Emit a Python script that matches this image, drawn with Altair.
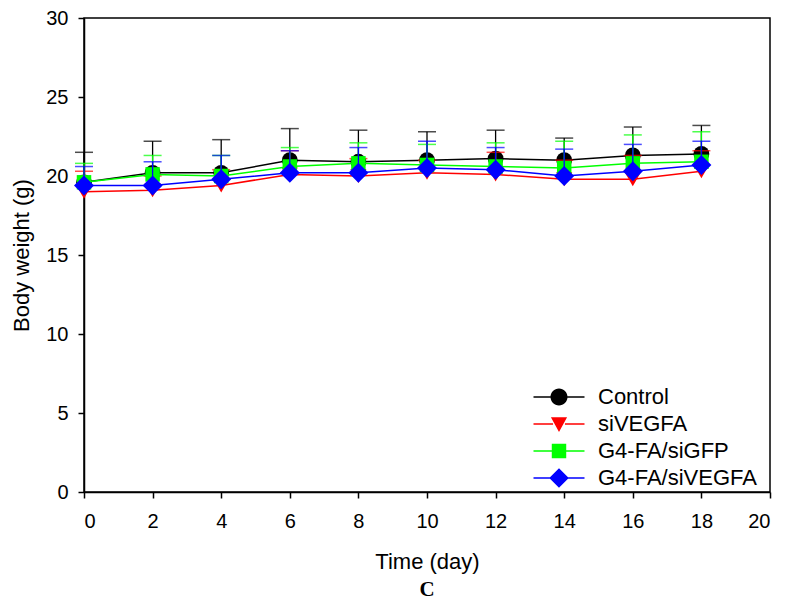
import altair as alt
import pandas as pd

days = [0, 2, 4, 6, 8, 10, 12, 14, 16, 18]
series_names = ["Control", "siVEGFA", "G4-FA/siGFP", "G4-FA/siVEGFA"]
series_colors = ["#000000", "#ff0000", "#00ff00", "#0000ff"]
control = [19.6, 20.2, 20.2, 21.0, 20.9, 21.0, 21.1, 21.0, 21.3, 21.4]
control_up = [21.5, 22.2, 22.3, 23.0, 22.9, 22.8, 22.9, 22.4, 23.1, 23.2]
sivegfa = [19.0, 19.1, 19.4, 20.1, 20.0, 20.2, 20.1, 19.8, 19.8, 20.3]
sivegfa_up = [20.3, 20.0, 20.4, 21.6, 21.1, 21.0, 21.5, 21.0, 21.3, 21.6]
g4_sigfp = [19.6, 20.1, 20.0, 20.6, 20.8, 20.7, 20.6, 20.5, 20.8, 20.9]
g4_sigfp_up = [20.8, 21.3, 21.3, 21.8, 22.1, 22.0, 22.1, 22.2, 22.6, 22.8]
g4_sivegfa = [19.4, 19.4, 19.8, 20.2, 20.2, 20.5, 20.4, 20.0, 20.3, 20.7]
g4_sivegfa_up = [20.6, 20.9, 21.3, 21.6, 21.8, 22.2, 21.8, 21.7, 22.0, 22.2]
x_ticks = [0, 2, 4, 6, 8, 10, 12, 14, 16, 18, 20]
y_ticks = [0, 5, 10, 15, 20, 25, 30]

means = [control, sivegfa, g4_sigfp, g4_sivegfa]
uppers = [control_up, sivegfa_up, g4_sigfp_up, g4_sivegfa_up]
rows = []
for name, m, u in zip(series_names, means, uppers):
    for d, mv, uv in zip(days, m, u):
        rows.append({"day": d, "weight": mv, "upper": uv, "series": name})
df = pd.DataFrame(rows)

FONT = "Liberation Sans"
x_enc = alt.X("day:Q", scale=alt.Scale(domain=[0, 20], nice=False),
              axis=alt.Axis(values=x_ticks, title="Time (day)"))
y_enc = alt.Y("weight:Q", scale=alt.Scale(domain=[0, 30], nice=False),
              axis=alt.Axis(values=y_ticks, title="Body weight (g)"))

marker_shapes = ["circle", "triangle-down", "square", "diamond"]
marker_sizes = [250, 260, 210, 400]

bar = "M-3,-0.08H-0.7V0.08H-3Z M0.7,-0.08H3V0.08H0.7Z "
legend_paths = [
    bar + "M-1,0A1,1,0,1,1,1,0A1,1,0,1,1,-1,0Z",
    bar + "M-0.95,-0.8H0.95L0,0.95Z",
    bar + "M-0.85,-0.85H0.85V0.85H-0.85Z",
    bar + "M0,-1.15L1.15,0L0,1.15L-1.15,0Z",
]

base = alt.Chart(df)
layers = []
for name, col, shp, sz in zip(series_names, series_colors, marker_shapes, marker_sizes):
    sub = base.transform_filter(alt.datum.series == name)
    err = sub.mark_rule(strokeWidth=1.3, color=col).encode(x=x_enc, y=y_enc, y2="upper:Q")
    cap = sub.mark_tick(orient="horizontal", size=18, thickness=1.5, color=col).encode(
        x=x_enc, y=alt.Y("upper:Q"))
    line = sub.mark_line(strokeWidth=1.5, color=col).encode(x=x_enc, y=y_enc)
    pts = sub.mark_point(shape=shp, filled=True, size=sz, opacity=1, color=col).encode(
        x=x_enc, y=y_enc)
    layers += [err, cap, line, pts]

leg = alt.Legend(title=None, orient="none", legendX=464, legendY=368,
                 labelFont=FONT, labelFontSize=22, labelColor="black",
                 symbolSize=289, symbolStrokeWidth=0, symbolOpacity=1,
                 labelOffset=28, rowPadding=5, padding=0)
legend_layer = base.transform_filter("false").mark_point(filled=True, opacity=1).encode(
    x=x_enc, y=y_enc,
    color=alt.Color("series:N", scale=alt.Scale(domain=series_names, range=series_colors), legend=leg),
    shape=alt.Shape("series:N", scale=alt.Scale(domain=series_names, range=legend_paths), legend=leg),
)

chart = alt.layer(*layers, legend_layer).properties(
    width=686, height=474,
    autosize=alt.AutoSizeParams(type="none"),
    padding={"left": 76, "top": 10, "right": 11, "bottom": 110},
    title=alt.TitleParams("C", orient="bottom", font="Liberation Serif", fontSize=21,
                          fontWeight="bold", anchor="middle", frame="group", offset=7, color="black"),
).configure_view(stroke="black", strokeWidth=1.5).configure_axis(
    grid=False, domainColor="black", domainWidth=1.5, tickColor="black", tickWidth=1.5,
    tickSize=6, labelFont=FONT, labelFontSize=20, labelColor="black",
    titleFont=FONT, titleFontSize=22, titleFontWeight="normal", titleColor="black",
).configure_axisX(labelPadding=13, titlePadding=20).configure_axisY(labelPadding=10, titlePadding=12)

chart.save("out.html", embed_options={"renderer": "svg", "actions": False})
